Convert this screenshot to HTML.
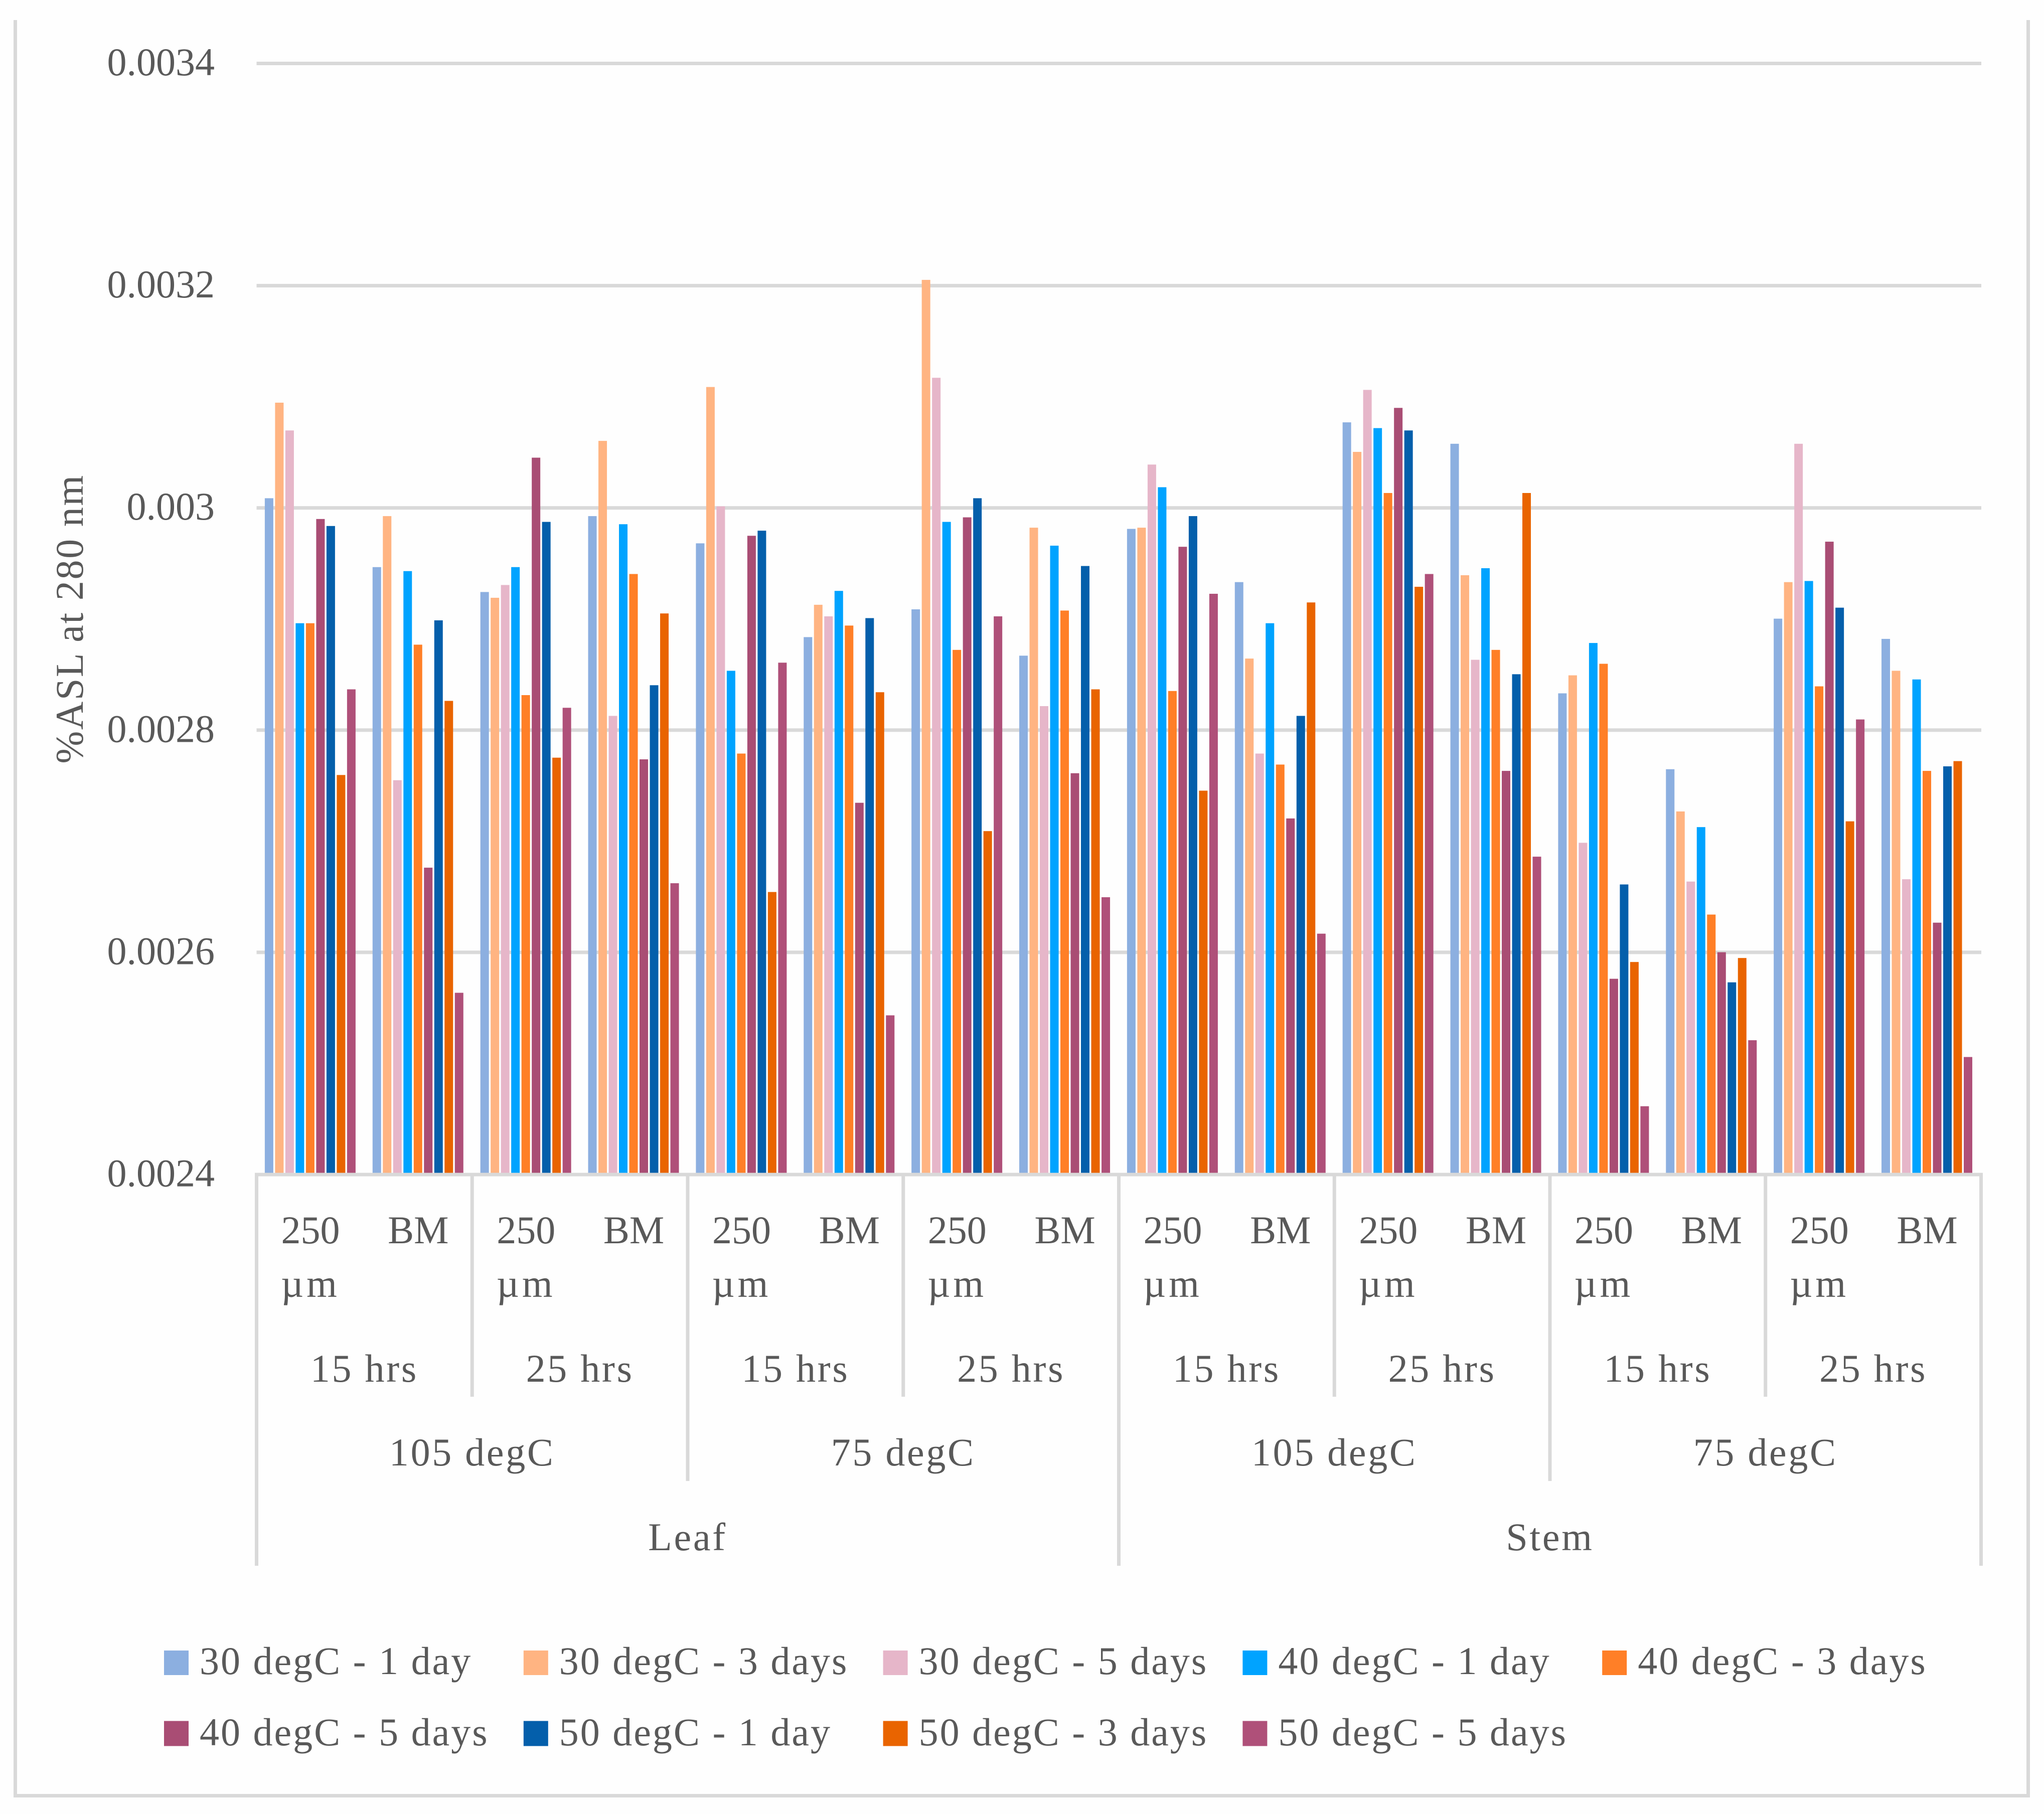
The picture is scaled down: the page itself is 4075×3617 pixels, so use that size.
<!DOCTYPE html>
<html lang="en">
<head>
<meta charset="utf-8">
<title>%ASL at 280 nm clustered bar chart</title>
<style>
  html, body { margin: 0; padding: 0; background: #fefefe; }
  svg { display: block; }
  text { font-family: "Liberation Serif", "Noto Serif CJK SC", serif; font-size: 78px; fill: #595959; }
  .title { letter-spacing: 2.6px; }
  .wide { letter-spacing: 3.7px; }
  .legend { letter-spacing: 3px; }
  .unit { letter-spacing: 6px; }
</style>
</head>
<body>
<svg id="chart" xmlns="http://www.w3.org/2000/svg" width="4075" height="3617" viewBox="0 0 4075 3617">
  <rect x="0" y="0" width="4075" height="3617" fill="#fefefe"/>
  <g fill="#d9d9d9">
    <rect x="27" y="40" width="7" height="3544"/>
    <rect x="4040" y="40" width="7" height="3544"/>
    <rect x="27" y="3577" width="4020" height="7"/>
  </g>
  <g id="grid"></g>
  <g id="bars"></g>
  <g id="axis"></g>
  <g id="yticks"></g>
  <text class="title" text-anchor="middle" transform="translate(165 1234) rotate(-90)">%ASL at 280 nm</text>
  <g id="legend"></g>
</svg>
<script>
// ---- Chart data ----
const sizeLabels = ['250', 'BM'];
const timeLabels = ['15 hrs', '25 hrs'];
const dryLabels = ['105 degC', '75 degC'];
const partLabels = ['Leaf', 'Stem'];
const yTicks = [0.0024, 0.0026, 0.0028, 0.003, 0.0032, 0.0034];
const seriesNames = ['30 degC - 1 day', '30 degC - 3 days', '30 degC - 5 days', '40 degC - 1 day', '40 degC - 3 days', '40 degC - 5 days', '50 degC - 1 day', '50 degC - 3 days', '50 degC - 5 days'];
const seriesColors = ['#8cafe0', '#ffb482', '#e6b6c9', '#00a3ff', '#ff7f27', '#a94d74', '#045fab', '#e96400', '#af5079'];
const s30d1 = [0.0030087,0.0029467,0.0029243,0.0029926,0.0029681,0.0028837,0.0029087,0.0028670,0.0029811,0.0029332,0.0030770,0.0030577,0.0028331,0.0027648,0.0029003,0.0028821];
const s30d3 = [0.0030947,0.0029926,0.0029191,0.0030603,0.0031088,0.0029128,0.0032052,0.0029822,0.0029822,0.0028644,0.0030504,0.0029394,0.0028493,0.0027268,0.0029332,0.0028534];
const s30d5 = [0.0030697,0.0027549,0.0029306,0.0028128,0.0030014,0.0029024,0.0031171,0.0028216,0.0030390,0.0027789,0.0031062,0.0028633,0.0026986,0.0026637,0.0030577,0.0026658];
const s40d1 = [0.0028962,0.0029431,0.0029467,0.0029853,0.0028534,0.0029253,0.0029874,0.0029660,0.0030186,0.0028962,0.0030718,0.0029457,0.0028784,0.0027127,0.0029342,0.0028456];
const s40d3 = [0.0028962,0.0028769,0.0028315,0.0029405,0.0027789,0.0028941,0.0028722,0.0029076,0.0028352,0.0027690,0.0030134,0.0028722,0.0028597,0.0026340,0.0028394,0.0027633];
const s40d5 = [0.0029900,0.0026762,0.0030452,0.0027737,0.0029749,0.0027346,0.0029915,0.0027612,0.0029650,0.0027205,0.0030900,0.0027633,0.0025762,0.0026001,0.0029696,0.0026267];
const s50d1 = [0.0029837,0.0028988,0.0029874,0.0028404,0.0029795,0.0029008,0.0030087,0.0029477,0.0029926,0.0028128,0.0030697,0.0028503,0.0026611,0.0025730,0.0029102,0.0027674];
const s50d3 = [0.0027596,0.0028263,0.0027752,0.0029050,0.0026543,0.0028341,0.0027091,0.0028367,0.0027455,0.0029149,0.0029290,0.0030134,0.0025913,0.0025949,0.0027179,0.0027721];
const s50d5 = [0.0028367,0.0025636,0.0028201,0.0026622,0.0028607,0.0025433,0.0029024,0.0026496,0.0029227,0.0026168,0.0029405,0.0026861,0.0024615,0.0025209,0.0028096,0.0025058];
const allSeries = [s30d1, s30d3, s30d5, s40d1, s40d3, s40d5, s50d1, s50d3, s50d5];

// ---- Axis functions ----
const NS = 'http://www.w3.org/2000/svg';
const yMin = yTicks[0], yMax = yTicks[yTicks.length - 1];
const plotTop = 126.5, plotBottom = 2342, plotLeft = 511.5, plotRight = 3949.5;
const catCount = s30d1.length;
const catWidth = (plotRight - plotLeft) / catCount;
const barStep = 20.5, barWidth = 17, barOffset = 16.4;
function yScale(v) { return plotBottom - (v - yMin) / (yMax - yMin) * (plotBottom - plotTop); }
function catLeft(i) { return plotLeft + i * catWidth; }
function barX(cat, ser) { return catLeft(cat) + barOffset + ser * barStep; }
function make(tag, parent, attrs) {
  const el = document.createElementNS(NS, tag);
  for (const k in attrs) el.setAttribute(k, attrs[k]);
  parent.appendChild(el);
  return el;
}
function label(parent, str, x, y, anchor, cls) {
  const el = make('text', parent, { x: x, y: y, 'text-anchor': anchor });
  if (cls) el.setAttribute('class', cls);
  el.textContent = str;
  return el;
}

// ---- Gridlines and y ticks ----
const gridG = document.getElementById('grid');
const yTickG = document.getElementById('yticks');
yTicks.forEach(function (t) {
  if (t !== yMin) {
    const g = make('rect', gridG, { x: plotLeft, y: yScale(t) - 3.5, width: plotRight + 0.5 - plotLeft, height: 7, fill: '#d9d9d9' });
    
    
  }
  const tl = label(yTickG, String(t), 428, yScale(t) + 23.5, 'end');
  
  
});

// ---- Bars ----
const barsG = document.getElementById('bars');
allSeries.forEach(function (vals, s) {
  vals.forEach(function (v, c) {
    const top = yScale(v);
    const b = make('rect', barsG, { x: barX(c, s), y: top, width: barWidth, height: plotBottom - top, fill: seriesColors[s] });
    
    
  });
});

// ---- Category axis ----
const axisG = document.getElementById('axis');
const axisLine = make('rect', axisG, { x: plotLeft - 3.5, y: plotBottom - 3.5, width: plotRight - plotLeft + 7, height: 7, fill: '#d9d9d9' });


for (let i = 0; i <= catCount; i += 2) {
  const bottom = i % 8 === 0 ? 3122 : (i % 4 === 0 ? 2953 : 2785);
  const tick = make('rect', axisG, { x: catLeft(i) - 3.5, y: plotBottom, width: 7, height: bottom - plotBottom, fill: '#d9d9d9' });
  
  
}
for (let i = 0; i < catCount; i++) {
  const cx = catLeft(i) + catWidth / 2;
  const sizeText = label(axisG, sizeLabels[i % 2], cx, 2479, 'middle');
  
  
  if (i % 2 === 0) {
    const unitText = label(axisG, '\u00b5m', cx, 2586, 'middle', 'unit');
    
    
    const timeText = label(axisG, timeLabels[(i / 2) % 2], catLeft(i + 1), 2755, 'middle', 'wide');
    
    
  }
  if (i % 4 === 0) {
    const dryText = label(axisG, dryLabels[(i / 4) % 2], catLeft(i + 2), 2922, 'middle', 'wide');
    
    
  }
  if (i % 8 === 0) {
    const partText = label(axisG, partLabels[i / 8], catLeft(i + 4), 3091, 'middle', 'wide');
    
    
  }
}

// ---- Legend ----
const legendG = document.getElementById('legend');
const legendStep = 716.8, legendLeft = 327;
seriesNames.forEach(function (name, i) {
  const row = i < 5 ? 0 : 1;
  const col = i < 5 ? i : i - 5;
  const x = legendLeft + col * legendStep;
  const entry = make('g', legendG, {});
  
  
  const sw = make('rect', entry, { x: x, y: row ? 3431.5 : 3291, width: 49, height: row ? 50 : 49, fill: seriesColors[i] });
  
  
  const t = label(entry, name, x + 71, row ? 3480 : 3338, 'start', 'legend');
  
  
});
</script>
</body>
</html>
